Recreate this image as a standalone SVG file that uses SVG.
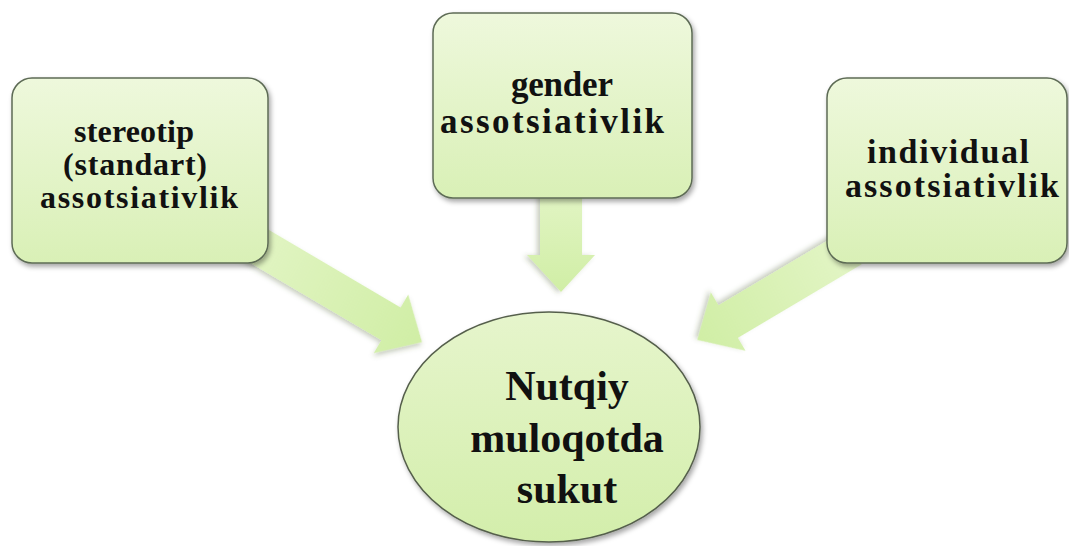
<svg xmlns="http://www.w3.org/2000/svg" width="1069" height="546" viewBox="0 0 1069 546">
<defs>
<linearGradient id="boxFill" x1="0" y1="0" x2="0" y2="1">
<stop offset="0" stop-color="#eef8dc"/>
<stop offset="1" stop-color="#d9f0b6"/>
</linearGradient>
<linearGradient id="ellFill" x1="0" y1="0" x2="0" y2="1">
<stop offset="0" stop-color="#e6f5cc"/>
<stop offset="1" stop-color="#d3eeab"/>
</linearGradient>
<linearGradient id="arrFill" x1="0" y1="0" x2="1" y2="0">
<stop offset="0" stop-color="#e3f5c6"/>
<stop offset="1" stop-color="#d0eea5"/>
</linearGradient>
<filter id="shadow" x="-20%" y="-20%" width="140%" height="140%">
<feDropShadow dx="2" dy="3" stdDeviation="2.5" flood-color="#000" flood-opacity="0.35"/>
</filter>
<filter id="ashadow" x="-20%" y="-20%" width="140%" height="140%">
<feDropShadow dx="1" dy="3" stdDeviation="2.5" flood-color="#4a5a30" flood-opacity="0.3"/>
</filter>
</defs>
<style>
.box{fill:url(#boxFill);stroke:#5d6b55;stroke-width:1.5;filter:url(#shadow)}
.ell{fill:url(#ellFill);stroke:#555f4c;stroke-width:1.5;filter:url(#shadow)}
.arr{fill:url(#arrFill);stroke:none;filter:url(#ashadow)}
.t{font-family:"Liberation Serif","Times New Roman",serif;font-weight:bold;fill:#111;text-anchor:middle}
.s32{font-size:32px}
.s34{font-size:34px}
.s35{font-size:35px}
.s42{font-size:42px}
</style>
<g id="connectors">
<path class="arr" transform="translate(235,232) rotate(30.5)" d="M0,-19 L181,-19 L181,-34 L217,0 L181,34 L181,19 L0,19 Z"/>
<path class="arr" transform="translate(561,185) rotate(90)" d="M0,-21 L70,-21 L70,-34 L107,0 L70,34 L70,21 L0,21 Z"/>
<path class="arr" transform="translate(852,248) rotate(149.3)" d="M0,-19 L144,-19 L144,-34 L180,0 L144,34 L144,19 L0,19 Z"/>
</g>
<g id="node-stereotip">
<rect class="box" x="12" y="78" width="256" height="185" rx="20"/>
<text class="t s32" x="134" y="142" textLength="120" lengthAdjust="spacing">stereotip</text>
<text class="t s32" x="135" y="175" textLength="144" lengthAdjust="spacing">(standart)</text>
<text class="t s32" x="139" y="208" textLength="198" lengthAdjust="spacing">assotsiativlik</text>
</g>
<g id="node-gender">
<rect class="box" x="433" y="13" width="259" height="185" rx="20"/>
<text class="t s35" x="562" y="96" textLength="102" lengthAdjust="spacing">gender</text>
<text class="t s35" x="552" y="133" textLength="224" lengthAdjust="spacing">assotsiativlik</text>
</g>
<g id="node-individual">
<rect class="box" x="827" y="78" width="240" height="185" rx="20"/>
<text class="t s34" x="948" y="163" textLength="162" lengthAdjust="spacing">individual</text>
<text class="t s34" x="952" y="197" textLength="214" lengthAdjust="spacing">assotsiativlik</text>
</g>
<g id="node-center">
<ellipse class="ell" cx="549" cy="427" rx="151" ry="115"/>
<text class="t s42" x="567" y="400">Nutqiy</text>
<text class="t s42" x="567" y="452">muloqotda</text>
<text class="t s42" x="567" y="503">sukut</text>
</g>
</svg>
